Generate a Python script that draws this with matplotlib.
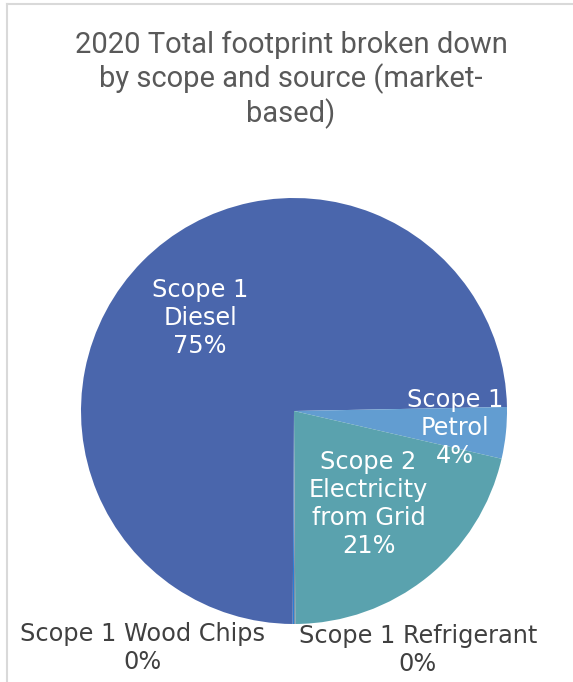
import matplotlib.pyplot as plt
import numpy as np

OUT_PATH = "out.png"

TITLE = "2020 Total footprint broken down\nby scope and source (market-\nbased)"
SOURCES = [
    "Scope 1 Wood Chips",
    "Scope 1\nDiesel",
    "Scope 1\nPetrol",
    "Scope 2\nElectricity\nfrom Grid",
    "Scope 1 Refrigerant",
]
SHARES = [0.1, 74.6, 3.9, 21.3, 0.1]
COLORS = ["#297fd5", "#4a66ac", "#629dd1", "#5aa2ae", "#7f8fa9"]

# label placement: (radius, angle in degrees or None for the wedge middle)
LABEL_POS = [(1.32, 237.5), (0.62, None), (0.76, None), (0.56, None), (1.263, 297.4)]
INSIDE = [False, True, True, True, False]


def build_pie():
    fig = plt.figure(figsize=(5.73, 6.82), dpi=100)
    ax = fig.add_axes([0, 0, 1, 1])

    wedges, _ = ax.pie(
        SHARES,
        colors=COLORS,
        startangle=-90,
        counterclock=False,
        radius=1.0,
        wedgeprops=dict(linewidth=0),
    )
    ax.set_xlim(-294 / 213, (573 - 294) / 213)
    ax.set_ylim(-271 / 213, 411 / 213)
    ax.set_aspect("auto")
    ax.axis("off")

    for w, name, share, (r, ang), inside in zip(wedges, SOURCES, SHARES, LABEL_POS, INSIDE):
        if ang is None:
            ang = (w.theta1 + w.theta2) / 2
        a = np.deg2rad(ang)
        ax.text(
            r * np.cos(a), r * np.sin(a),
            f"{name}\n{share:.0f}%",
            ha="center", va="center",
            fontsize=17.3, family="DejaVu Sans",
            color="white" if inside else "#404040",
            linespacing=1.2,
        )

    fig.text(0.508, 1 - 80 / 682, TITLE, ha="center", va="center",
             fontsize=21, family="Roboto", color="#595959", linespacing=1.17)

    # chart frame (top and left edges only are visible)
    fig.add_artist(plt.Line2D([7 / 573, 1], [1 - 4 / 682] * 2, color="#d9d9d9", lw=1.5))
    fig.add_artist(plt.Line2D([7 / 573] * 2, [0, 1 - 4 / 682], color="#d9d9d9", lw=1.5))

    fig.savefig(OUT_PATH, dpi=100)


if __name__ == "__main__":
    build_pie()
